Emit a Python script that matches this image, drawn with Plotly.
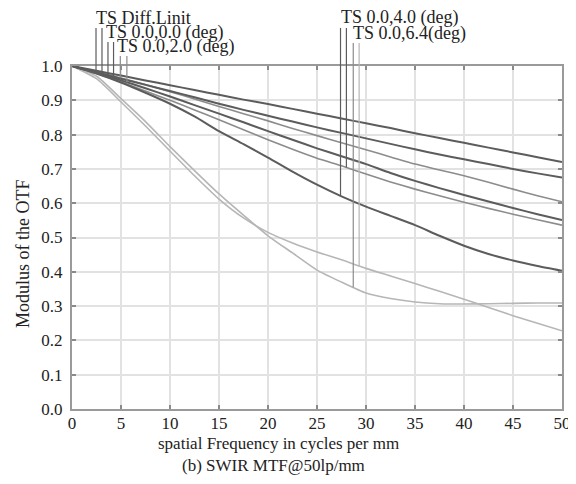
import numpy as np
import plotly.graph_objects as go

# spatial frequency samples (cycles/mm)
freq = [0, 2.5, 5, 7.5, 10, 12.5, 15, 17.5, 20, 22.5, 25, 27.5, 30, 32.5, 35, 37.5, 40, 42.5, 45, 47.5, 50]

# MTF curves
diff_limit = [1.0, 0.986, 0.972, 0.958, 0.944, 0.930, 0.916, 0.902, 0.889, 0.875, 0.861, 0.847, 0.833, 0.819, 0.804, 0.790, 0.776, 0.762, 0.748, 0.734, 0.720]
field_00 = [1.0, 0.982, 0.963, 0.945, 0.927, 0.909, 0.890, 0.872, 0.855, 0.838, 0.821, 0.805, 0.789, 0.773, 0.757, 0.742, 0.728, 0.714, 0.700, 0.687, 0.675]
field_20_s = [1.0, 0.983, 0.965, 0.946, 0.925, 0.904, 0.882, 0.861, 0.840, 0.818, 0.797, 0.776, 0.756, 0.735, 0.714, 0.697, 0.680, 0.661, 0.641, 0.622, 0.604]
field_20_t = [1.0, 0.980, 0.958, 0.935, 0.911, 0.886, 0.861, 0.836, 0.810, 0.785, 0.760, 0.737, 0.714, 0.688, 0.665, 0.644, 0.624, 0.605, 0.586, 0.568, 0.551]
field_40_s = [1.0, 0.978, 0.953, 0.927, 0.900, 0.872, 0.843, 0.814, 0.785, 0.757, 0.731, 0.709, 0.685, 0.662, 0.641, 0.622, 0.603, 0.585, 0.568, 0.552, 0.536]
field_40_t = [1.0, 0.978, 0.952, 0.922, 0.890, 0.853, 0.810, 0.772, 0.733, 0.692, 0.654, 0.620, 0.590, 0.563, 0.536, 0.505, 0.476, 0.452, 0.433, 0.417, 0.403]
field_64_t = [1.0, 0.970, 0.905, 0.838, 0.765, 0.695, 0.627, 0.565, 0.505, 0.455, 0.405, 0.370, 0.338, 0.322, 0.312, 0.307, 0.306, 0.307, 0.308, 0.309, 0.309]
field_64_s = [1.0, 0.963, 0.895, 0.825, 0.752, 0.680, 0.612, 0.557, 0.515, 0.484, 0.458, 0.435, 0.410, 0.388, 0.366, 0.343, 0.320, 0.296, 0.272, 0.250, 0.228]

curves = {
    "diff": diff_limit, "f00": field_00, "f20s": field_20_s, "f20t": field_20_t,
    "f40s": field_40_s, "f40t": field_40_t, "f64t": field_64_t, "f64s": field_64_s,
}
curve_order = ["f64s", "f64t", "f40s", "f20s", "diff", "f00", "f20t", "f40t"]

DARK = "#5c5c5c"
MID = "#8c8c8c"
LIGHT = "#b6b6b6"
curve_color = {"diff": DARK, "f00": DARK, "f20s": MID, "f20t": DARK,
               "f40s": MID, "f40t": DARK, "f64t": LIGHT, "f64s": LIGHT}
curve_width = {"diff": 2, "f00": 2, "f20s": 1.6, "f20t": 2,
               "f40s": 1.6, "f40t": 2, "f64t": 1.6, "f64s": 1.6}

# field labels and their leader lines
labels = ["TS Diff.Linit", "TS 0.0,0.0 (deg)", "TS 0.0,2.0 (deg)", "TS 0.0,4.0 (deg)", "TS 0.0,6.4(deg)"]
label_x = [2.2, 3.3, 4.4, 27.2, 28.5]
label_y = [1.14, 1.099, 1.058, 1.14, 1.096]
leader_x = [2.45, 3.06, 3.67, 4.24, 4.93, 5.6, 27.4, 28.0, 28.7, 29.3]
leader_curve = ["diff", "diff", "f00", "f00", "f20s", "f20t", "f40t", "f40s", "f64t", "f64s"]
leader_top = [1.111, 1.111, 1.07, 1.07, 1.029, 1.029, 1.111, 1.111, 1.067, 1.067]
leader_color = [DARK, DARK, DARK, DARK, MID, MID, DARK, DARK, MID, LIGHT]

x_ticks = [0, 5, 10, 15, 20, 25, 30, 35, 40, 45, 50]
y_ticks = [0.0, 0.1, 0.2, 0.3, 0.4, 0.5, 0.6, 0.7, 0.8, 0.9, 1.0]

FONT = "Liberation Serif"
TXT = "#222222"

# page has an 8px body margin: size the figure so that the page does not overflow
OFF = 8
W, H = 576 - OFF, 484 - 2 * OFF
PL, PR, PT, PB = 72, 562, 66, 409   # plot area in window pixels
L, R, T, B = PL - OFF, W + OFF - PR, PT - OFF, H + OFF - PB

fig = go.Figure()
for key in curve_order:
    fig.add_trace(go.Scatter(
        x=freq, y=curves[key], mode="lines",
        line=dict(color=curve_color[key], width=curve_width[key], shape="spline", smoothing=0.6),
        showlegend=False, hoverinfo="skip"))

shapes = []
for lx, lc, lt, col in zip(leader_x, leader_curve, leader_top, leader_color):
    yb = float(np.interp(lx, freq, curves[lc]))
    shapes.append(dict(type="line", xref="x", yref="paper", x0=lx, x1=lx, y0=yb, y1=lt,
                       line=dict(color=col, width=1.2), layer="above"))

annotations = []
for t, ax_, ay_ in zip(labels, label_x, label_y):
    annotations.append(dict(text=t, x=ax_, y=ay_, xref="x", yref="paper", xanchor="left",
                            yanchor="middle", showarrow=False,
                            font=dict(family=FONT, size=18, color=TXT)))


def px_to_paper(px, py):
    return (px - PL) / (PR - PL), (PB - py) / (PB - PT)


titles = [("spatial Frequency in cycles per mm", 278, 443, 0, 17),
          ("(b) SWIR MTF@50lp/mm", 273, 465, 0, 17),
          ("Modulus of the OTF", 23, 254, -90, 18)]
for t, px, py, ang, sz in titles:
    xp, yp = px_to_paper(px, py)
    annotations.append(dict(text=t, x=xp, y=yp, xref="paper", yref="paper", showarrow=False,
                            textangle=ang, xanchor="center", yanchor="middle",
                            font=dict(family=FONT, size=sz, color=TXT)))

axis_common = dict(showgrid=True, gridcolor="#e2e2e2", gridwidth=1.5, zeroline=False,
                   showline=True, linecolor="#9a9a9a", linewidth=2, mirror="ticks",
                   ticks="inside", ticklen=4, tickcolor="#8a8a8a", tickwidth=1.5,
                   automargin=False, ticklabeloverflow="allow",
                   tickfont=dict(family=FONT, size=17, color=TXT))

fig.update_layout(
    width=W, height=H, autosize=False,
    font=dict(family=FONT, color=TXT),
    margin=dict(l=L, r=R, t=T, b=B, pad=0),
    paper_bgcolor="white", plot_bgcolor="white",
    xaxis=dict(range=[0, 50], tickvals=x_ticks, ticklabelstandoff=-2, **axis_common),
    yaxis=dict(range=[0, 1], tickvals=y_ticks, tickformat=".1f", ticklabelstandoff=4, **axis_common),
    shapes=shapes, annotations=annotations,
)
fig.write_html("out.html")
